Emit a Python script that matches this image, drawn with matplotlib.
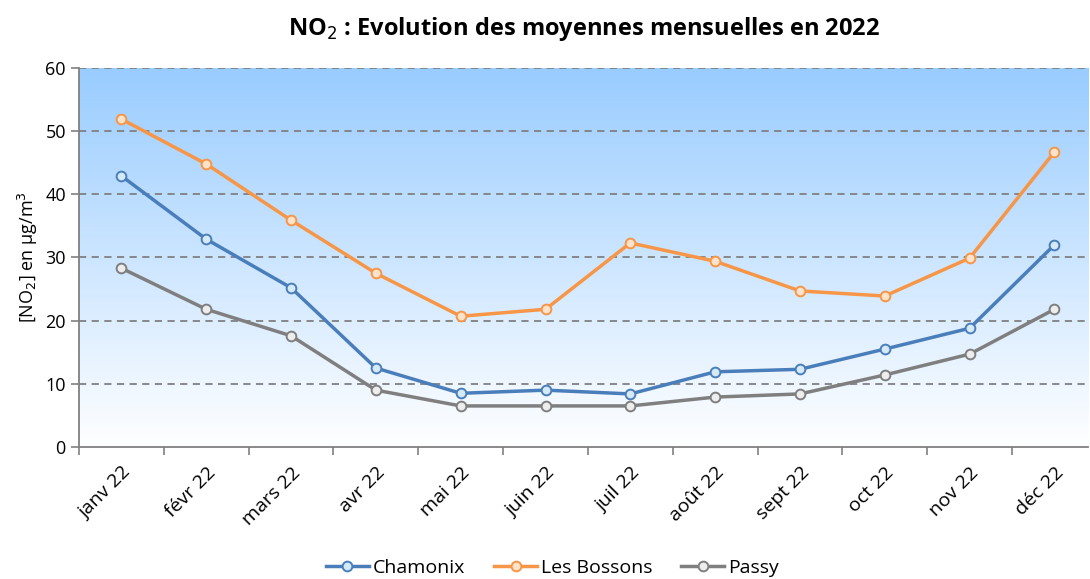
import matplotlib
matplotlib.use("Agg")
import matplotlib.pyplot as plt
import numpy as np

months = ["janv 22", "févr 22", "mars 22", "avr 22", "mai 22", "juin 22",
          "juil 22", "août 22", "sept 22", "oct 22", "nov 22", "déc 22"]
chamonix = [42.9, 32.9, 25.2, 12.5, 8.5, 9.0, 8.4, 11.9, 12.3, 15.5, 18.8, 32.0]
bossons = [51.9, 44.8, 35.9, 27.5, 20.7, 21.8, 32.3, 29.4, 24.7, 23.9, 29.9, 46.7]
passy = [28.3, 21.8, 17.6, 9.0, 6.5, 6.5, 6.5, 7.9, 8.4, 11.4, 14.7, 21.8]

plt.rcParams['font.family'] = ['Open Sans', 'DejaVu Sans']

fig = plt.figure(figsize=(10.9, 5.79), dpi=100)
ax = fig.add_axes([0.0725, 0.228, 0.926, 0.6546])

x = np.arange(len(months))
ax.set_xlim(-0.5, 11.4)
ax.set_ylim(0, 60)

# vertical gradient background
grad = np.linspace(1, 0, 256).reshape(-1, 1)
top = np.array([0.60, 0.80, 1.0])
bottom = np.array([1.0, 1.0, 1.0])
img = bottom + (top - bottom) * grad[..., None]
ax.imshow(img, extent=[-0.5, 11.4, 0, 60], aspect='auto', zorder=0, origin='upper')

for y in range(10, 61, 10):
    ax.axhline(y, color='#808080', lw=1.3, ls=(0, (4, 3)), zorder=1)

series = [
    ("Chamonix", chamonix, '#4A7EBB', '#D6EAF5'),
    ("Les Bossons", bossons, '#F79646', '#FDE3CC'),
    ("Passy", passy, '#7F7F7F', '#EDEDED'),
]
for name, vals, col, face in series:
    ax.plot(x, vals, color=col, lw=2.5, marker='o', ms=7, mfc=face,
            mec=col, mew=1.4, label=name, zorder=3)

ax.set_yticks(range(0, 61, 10))
ax.set_xticks(x)
ax.set_xticklabels(months, rotation=45, ha='right', rotation_mode='anchor', fontsize=14)
ax.tick_params(axis='x', which='major', length=0, pad=12)
ax.set_xticks(np.arange(-0.5, 11.5, 1), minor=True)
ax.tick_params(axis='x', which='minor', length=6, color='#808080', width=1.2)
ax.tick_params(axis='y', length=6, color='#808080', width=1.2, labelsize=13)

for s in ['top', 'right']:
    ax.spines[s].set_visible(False)
for s in ['left', 'bottom']:
    ax.spines[s].set_color('#808080')
    ax.spines[s].set_linewidth(1.3)

ax.set_ylabel("[NO$_2$] en µg/m$^3$", fontsize=13)
ax.set_title("NO$_2$ : Evolution des moyennes mensuelles en 2022",
             fontsize=17, fontweight='bold', pad=24)

ax.legend(loc='center', bbox_to_anchor=(0.469, -0.32), ncol=3,
          frameon=False, fontsize=14, handlelength=2.2, columnspacing=1.5,
          handletextpad=0.2)

fig.savefig("out.png", dpi=100)
